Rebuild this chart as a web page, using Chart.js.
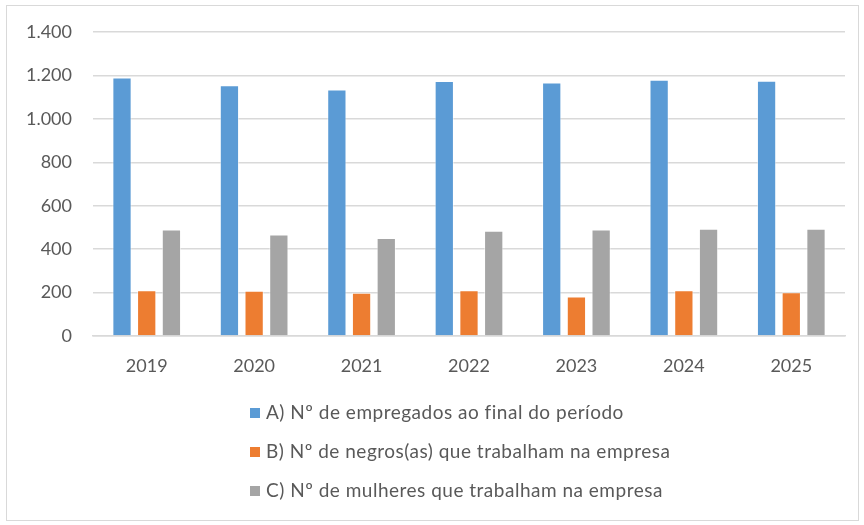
<!DOCTYPE html>
<html>
<head>
<meta charset="utf-8">
<script src="https://cdn.jsdelivr.net/npm/chart.js@4"></script>
<style>
body { margin: 0; background: #fff; }
#frame { position: absolute; left: 6px; top: 5px; width: 853px; height: 516px; border: 1px solid #d9d9d9; box-sizing: border-box; }
#chart { position: absolute; left: 0; top: 0; }
</style>
</head>
<body>
<div id="frame"></div>
<canvas id="chart" width="864" height="525"></canvas>
<script>
const years = ['2019', '2020', '2021', '2022', '2023', '2024', '2025'];
const empregados = [1190, 1155, 1135, 1174, 1168, 1180, 1176];
const negros = [211, 208, 199, 211, 182, 211, 202];
const mulheres = [490, 468, 451, 485, 490, 494, 494];
const seriesNames = [
    'A) Nº de empregados ao final do período',
    'B) Nº de negros(as) que trabalham na empresa',
    'C) Nº de mulheres que trabalham na empresa'
];
const seriesColors = ['#5b9bd5', '#ed7d31', '#a5a5a5'];
const yMax = 1400;
const yStep = 200;

const textColor = '#595959';
const fontFamily = 'Lato, "Open Sans", sans-serif';

function formatThousands(v) {
    return String(v).replace(/\B(?=(\d{3})+(?!\d))/g, '.');
}

// legend drawn as a vertical list under the axis, like the Excel original
const listLegend = {
    id: 'listLegend',
    afterDraw(chart) {
        const ctx = chart.ctx;
        const top = chart.chartArea.bottom + 77;
        ctx.save();
        ctx.font = '19px ' + fontFamily;
        ctx.letterSpacing = '0.5px';
        ctx.textBaseline = 'middle';
        chart.data.datasets.forEach((ds, i) => {
            const y = top + i * 39;
            ctx.fillStyle = ds.backgroundColor;
            ctx.fillRect(250, y - 5, 10, 10);
            ctx.fillStyle = textColor;
            ctx.fillText(ds.label, 266, y);
        });
        ctx.restore();
    }
};

const ctx = document.getElementById('chart').getContext('2d');
const values = [empregados, negros, mulheres];

new Chart(ctx, {
    type: 'bar',
    data: {
        labels: years,
        datasets: values.map((data, i) => ({
            label: seriesNames[i],
            data: data,
            backgroundColor: seriesColors[i],
            borderColor: 'rgba(255,255,255,0.5)',
            borderWidth: 1,
            categoryPercentage: 0.69,
            barPercentage: 0.78
        }))
    },
    options: {
        responsive: false,
        animation: false,
        layout: {
            padding: { left: 0, right: 19, top: 32, bottom: 149 }
        },
        plugins: {
            legend: { display: false },
            tooltip: { enabled: false }
        },
        scales: {
            x: {
                grid: { display: false, drawTicks: false },
                border: { color: '#d9d9d9', width: 1.5 },
                ticks: {
                    color: textColor,
                    font: { family: fontFamily, size: 18 },
                    padding: 19
                },
                afterFit: s => { s.height = 40; }
            },
            y: {
                min: 0,
                max: yMax,
                grid: { color: '#d9d9d9', lineWidth: 1.5, drawTicks: false },
                border: { display: false },
                ticks: {
                    stepSize: yStep,
                    color: textColor,
                    font: { family: fontFamily, size: 18 },
                    padding: 21,
                    callback: v => formatThousands(v)
                },
                afterFit: s => { s.width = 93; }
            }
        }
    },
    plugins: [listLegend]
});
</script>
</body>
</html>
